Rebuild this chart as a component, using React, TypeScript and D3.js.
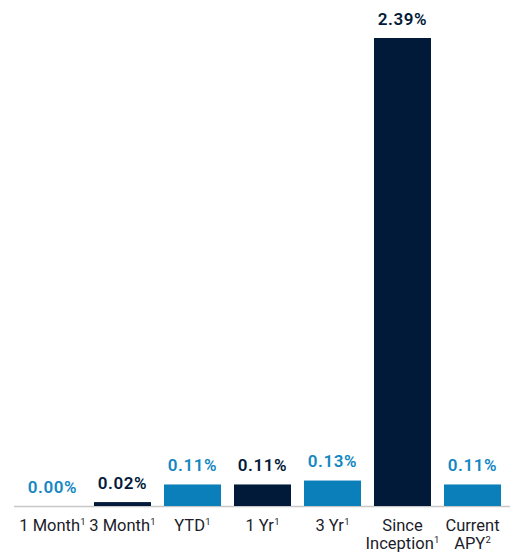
import React from "react";
import * as d3 from "d3";

const categories: string[][] = [
  ["1 Month|1"],
  ["3 Month|1"],
  ["YTD|1"],
  ["1 Yr|1"],
  ["3 Yr|1"],
  ["Since", "Inception|1"],
  ["Current", "APY|2"],
];
const values: number[] = [0.0, 0.02, 0.11, 0.11, 0.13, 2.39, 0.11];
const valueLabels: string[] = ["0.00%", "0.02%", "0.11%", "0.11%", "0.13%", "2.39%", "0.11%"];
const seriesKind: string[] = ["light", "dark", "light", "dark", "light", "dark", "light"];

const W = 518;
const H = 552;
const LIGHT = "#0a7fba";
const DARK = "#021a3a";
const FONT = "Roboto, 'Open Sans', sans-serif";

function Label({ text }: { text: string }) {
  const [main, sup] = text.split("|");
  return (
    <>
      {main}
      {sup && (
        <tspan fontSize={9.5} dy={-6} dx={0.3}>
          {sup}
        </tspan>
      )}
    </>
  );
}

export default function App() {
  const keys = categories.map((c) => c.join(" "));
  const x = d3
    .scaleBand<string>()
    .domain(keys)
    .range([17.5, 507.5])
    .paddingInner(13 / 70)
    .paddingOuter(6.5 / 70);
  const baseY = 506;
  const y = d3.scaleLinear().domain([0, 2.39]).range([baseY, 38]);

  return (
    <svg
      width={W}
      height={H}
      style={{ position: "absolute", left: 0, top: 0, background: "#fff" }}
    >
      <line x1={14} x2={510} y1={baseY + 0.5} y2={baseY + 0.5} stroke="#c8c8c8" strokeWidth={1.5} />
      {keys.map((k, i) => {
        const bx = x(k)!;
        const bw = x.bandwidth();
        const top = y(values[i]);
        const color = seriesKind[i] === "light" ? LIGHT : DARK;
        const cx = bx + bw / 2;
        return (
          <g key={k}>
            {values[i] > 0 && (
              <rect x={bx} y={top} width={bw} height={baseY - top} fill={color} />
            )}
            <text
              x={cx}
              y={top - 13.5}
              textAnchor="middle"
              fontFamily={FONT}
              fontWeight={600}
              fontSize={17}
              letterSpacing={0.6}
              fill={seriesKind[i] === "light" ? "#1487c2" : DARK}
            >
              {valueLabels[i]}
            </text>
            {categories[i].map((line, j) => (
              <text
                key={j}
                x={cx}
                y={530.5 + j * 18}
                textAnchor="middle"
                fontFamily={FONT}
                fontSize={16.5}
                fill="#1c1c2a"
              >
                <Label text={line} />
              </text>
            ))}
          </g>
        );
      })}
    </svg>
  );
}
